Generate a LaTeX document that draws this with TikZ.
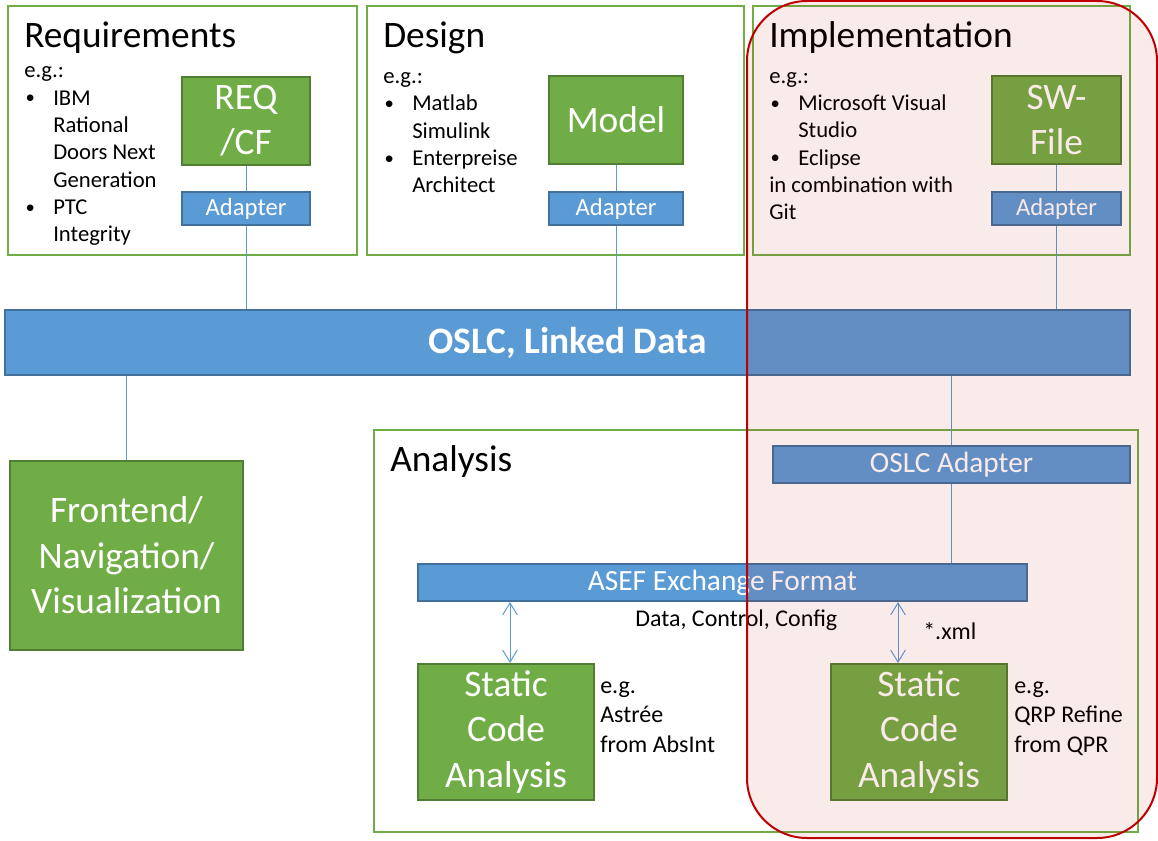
\documentclass[tikz,border=0pt]{standalone}
\usepackage{fontspec}
\setmainfont{Carlito}
\usetikzlibrary{arrows.meta,positioning,calc}
\definecolor{tlGreen}{HTML}{70AD47}
\definecolor{tlGreenDark}{HTML}{507E32}
\definecolor{tlBlue}{HTML}{5B9BD5}
\definecolor{tlBlueDark}{HTML}{41719C}
\definecolor{tlRed}{HTML}{C00000}
\newcommand{\itm}{\makebox[21.75pt][l]{\hspace{1pt}\raisebox{1pt}{\fontsize{14}{14}\selectfont •}}}
\newcommand{\ind}{\hspace*{21.75pt}}
\tikzset{
  lane/.style={draw=tlGreen, line width=1.5pt, minimum height=186.75pt, inner sep=0pt},
  lanetitle/.style={anchor=base west, inner sep=0pt, font=\fontsize{28}{34}\selectfont},
  examples/.style={anchor=base west, inner sep=0pt, align=left, font=\fontsize{17}{20.5}\selectfont},
  toolbox/.style={draw=tlGreenDark, line width=1.5pt, fill=tlGreen, text=white,
    align=center, inner sep=0pt, font=\fontsize{28}{34}\selectfont},
  adapter/.style={draw=tlBlueDark, line width=1.5pt, fill=tlBlue, text=white,
    inner sep=0pt, minimum height=24.75pt, font=\fontsize{18.5}{22}\selectfont},
  bus/.style={adapter, font=\fontsize{22}{26}\selectfont},
  link/.style={draw=tlBlue, line width=0.75pt},
  xchg/.style={link, {Straight Barb[length=9pt,width=11pt]}-{Straight Barb[length=9pt,width=11pt]}},
  note/.style={anchor=base west, inner sep=0pt, align=left, font=\fontsize{18}{22}\selectfont},
  hilite/.style={draw=tlRed, line width=1.5pt, fill=tlRed, fill opacity=0.08,
    rounded corners=45pt, inner sep=0pt}
}
\begin{document}
\begin{tikzpicture}[x=0.75pt, y=-0.75pt]
  \useasboundingbox (0,0) rectangle (1158,841);
  % lanes
  \node[lane, minimum width=261.75pt] (req) at (182.5,130.5) {};
  \node[lane, minimum width=282.75pt] (des) at (555.5,130.5) {};
  \node[lane, minimum width=282.75pt] (impl) at (941.5,130.5) {};
  \node[lane, minimum width=573pt, minimum height=301.5pt] (ana) at (756,631) {};
  \node[lanetitle] (reqtitle) at (24,48) {Requirements};
  \node[lanetitle] (destitle) at (383,48) {Design};
  \node[lanetitle] (impltitle) at (769,48) {Implementation};
  \node[lanetitle] (anatitle) at (390,472) {Analysis};
  % example lists (anchored at their last line)
  \node[examples] (reqex) at (24,242) {e.g.:\\\itm IBM\\\ind Rational\\\ind Doors Next\\\ind Generation\\\itm PTC\\\ind Integrity};
  \node[examples] (desex) at (383,193) {e.g.:\\\itm Matlab\\\ind Simulink\\\itm Enterpreise\\\ind Architect};
  \node[examples] (implex) at (769,220) {e.g.:\\\itm Microsoft Visual\\\ind Studio\\\itm Eclipse\\in combination with\\Git};
  % tools and adapters
  \node[toolbox, minimum width=96pt, minimum height=66pt] (reqcf) at (246,121) {REQ\\/CF};
  \node[toolbox, minimum width=100.5pt, minimum height=66pt] (model) at (616,120) {Model};
  \node[toolbox, minimum width=96.75pt, minimum height=66pt] (swfile) at (1056.5,120) {SW-\\File};
  \node[adapter, minimum width=96pt] (reqad) at (246,208.5) {Adapter};
  \node[adapter, minimum width=100.5pt] (desad) at (616,208.5) {Adapter};
  \node[adapter, minimum width=96.75pt] (implad) at (1056.5,208.5) {Adapter};
  \node[adapter, minimum width=843.75pt, minimum height=48.75pt,
    font=\fontsize{28}{34}\selectfont\bfseries] (oslc) at (567.5,342.5) {OSLC, Linked Data};
  \node[toolbox, minimum width=174.75pt, minimum height=141.75pt] (front) at (126.5,555.5) {Frontend/\\Navigation/\\Visualization};
  % analysis
  \node[bus, minimum width=267.75pt, minimum height=27.75pt] (oslcad) at (951.5,464.5) {OSLC Adapter};
  \node[bus, minimum width=456.75pt, minimum height=27.75pt] (asef) at (722.5,582.5) {ASEF Exchange Format};
  \node[toolbox, minimum width=132pt, minimum height=102pt] (scaleft) at (506,732) {Static\\Code\\Analysis};
  \node[toolbox, minimum width=132pt, minimum height=102pt] (scaright) at (919,732) {Static\\Code\\Analysis};
  \node[note] (dcc) at (635,627) {Data, Control, Config};
  \node[note] (xml) at (923,640) {*.xml};
  \node[note] (astree) at (600,752) {e.g.\\Astrée\\from AbsInt};
  \node[note] (qpr) at (1014,752) {e.g.\\QRP Refine\\from QPR};
  % connectors
  \draw[link] (reqcf) -- (reqad);
  \draw[link] (model) -- (desad);
  \draw[link] (swfile) -- (implad);
  \draw[link] (reqad) -- (reqad |- oslc.north);
  \draw[link] (desad) -- (desad |- oslc.north);
  \draw[link] (implad) -- (implad |- oslc.north);
  \draw[link] (oslc.south -| front) -- (front);
  \draw[link] (oslc.south -| oslcad) -- (oslcad);
  \draw[link] (oslcad) -- (oslcad |- asef.north);
  \draw[xchg] ([xshift=3pt]scaleft.north |- asef.south) -- ([xshift=3pt]scaleft.north);
  \draw[xchg] ([xshift=-15.75pt]scaright.north |- asef.south) -- ([xshift=-15.75pt]scaright.north);
  % implementation focus
  \node[hilite, minimum width=307.5pt, minimum height=627.75pt] (focus) at (952,419.5) {};
\end{tikzpicture}
\end{document}
